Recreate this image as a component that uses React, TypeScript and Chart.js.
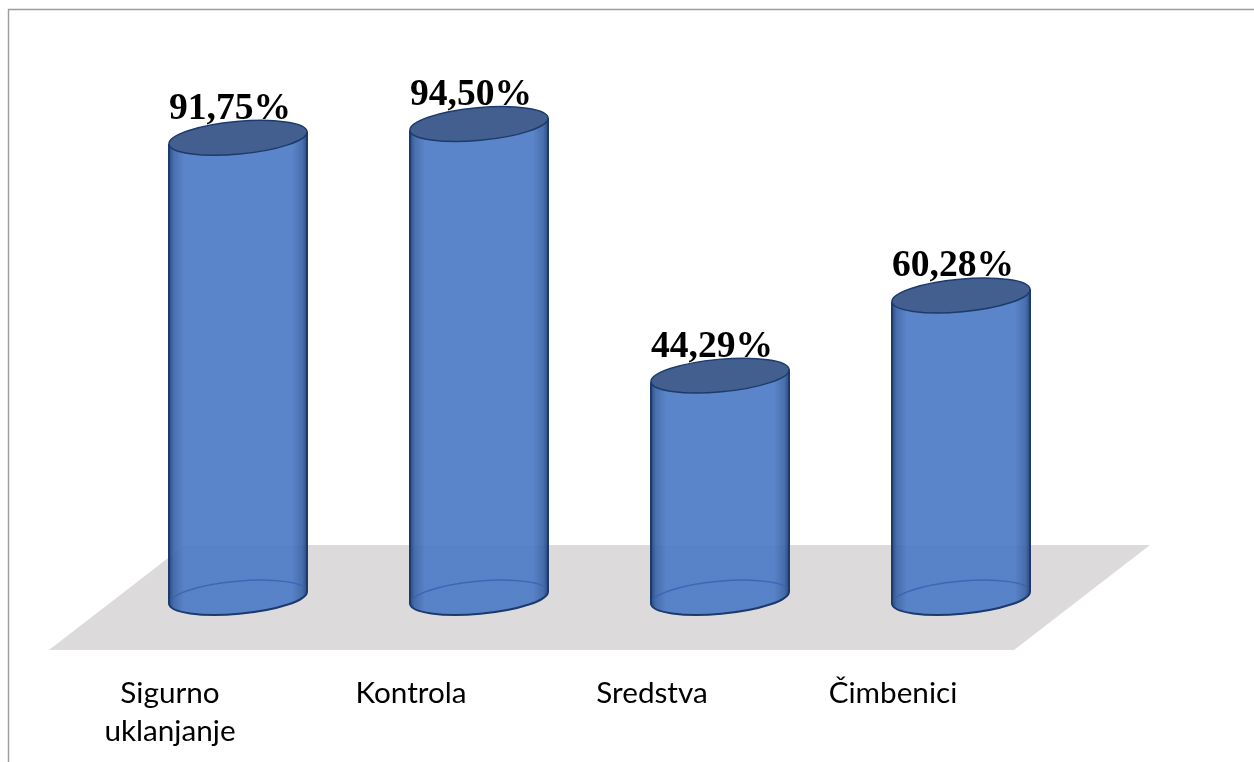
import React, { useEffect, useRef } from "react";
import { Chart, registerables } from "chart.js";

Chart.register(...registerables);

const categories: (string | string[])[] = [["Sigurno", "uklanjanje"], "Kontrola", "Sredstva", "Čimbenici"];
const values = [91.75, 94.5, 44.29, 60.28];
const valueLabels = ["91,75%", "94,50%", "44,29%", "60,28%"];

const TILT = (-5.2 * Math.PI) / 180;
const MINOR = 16.3;

const framePlugin = {
  id: "frame",
  beforeDraw(chart: any) {
    const { ctx } = chart;
    ctx.save();
    ctx.strokeStyle = "#9c9c9c";
    ctx.lineWidth = 1.4;
    ctx.beginPath();
    ctx.moveTo(8.5, 762);
    ctx.lineTo(8.5, 9.5);
    ctx.lineTo(1254, 9.5);
    ctx.stroke();
    ctx.restore();
  },
};

const floorPlugin = {
  id: "floor",
  beforeDatasetsDraw(chart: any) {
    const { ctx, chartArea: a } = chart;
    const top = a.bottom - 52.5;
    const bottom = a.bottom + 52.5;
    ctx.save();
    ctx.fillStyle = "#dcdadb";
    ctx.beginPath();
    ctx.moveTo(a.left - 68.5, bottom);
    ctx.lineTo(a.left + 67.5, top);
    ctx.lineTo(a.right + 68.5, top);
    ctx.lineTo(a.right - 67.5, bottom);
    ctx.closePath();
    ctx.fill();
    ctx.restore();
  },
};

const cylinderPlugin = {
  id: "cylinders",
  afterDatasetsDraw(chart: any) {
    const { ctx } = chart;
    const meta = chart.getDatasetMeta(0);
    meta.data.forEach((bar: any, i: number) => {
      const cx = bar.x;
      const w = bar.width;
      const a = w / 2 + 0.3;
      const l = cx - w / 2;
      const r = cx + w / 2;
      const dy = (w / 2) * Math.tan(-TILT);
      const yTop = bar.y;
      const yBase = bar.base;

      ctx.save();
      // body
      const grad = ctx.createLinearGradient(l, 0, r, 0);
      const edgeStop = 15 / w;
      grad.addColorStop(0, "rgba(34,66,122,0.95)");
      grad.addColorStop(edgeStop * 0.3, "rgba(58,98,166,0.92)");
      grad.addColorStop(edgeStop, "rgba(78,124,198,0.93)");
      grad.addColorStop(1 - edgeStop, "rgba(78,124,198,0.93)");
      grad.addColorStop(1 - edgeStop * 0.3, "rgba(58,98,166,0.92)");
      grad.addColorStop(1, "rgba(34,66,122,0.95)");
      ctx.fillStyle = grad;
      ctx.beginPath();
      ctx.moveTo(l, yTop + dy);
      ctx.lineTo(l, yBase + dy);
      ctx.ellipse(cx, yBase, a, MINOR, TILT, Math.PI, 0, true);
      ctx.lineTo(r, yTop - dy);
      ctx.ellipse(cx, yTop, a, MINOR, TILT, 0, Math.PI, false);
      ctx.closePath();
      ctx.fill();

      // back rim of the base
      ctx.strokeStyle = "rgba(52,98,178,0.8)";
      ctx.lineWidth = 1.4;
      ctx.beginPath();
      ctx.ellipse(cx, yBase, a, MINOR, TILT, Math.PI, 0, false);
      ctx.stroke();

      // outline of the body
      ctx.strokeStyle = "#1c3a6c";
      ctx.lineWidth = 2;
      ctx.beginPath();
      ctx.moveTo(l, yTop + dy);
      ctx.lineTo(l, yBase + dy);
      ctx.ellipse(cx, yBase, a, MINOR, TILT, Math.PI, 0, true);
      ctx.lineTo(r, yTop - dy);
      ctx.stroke();

      // top cap
      ctx.fillStyle = "#425f8f";
      ctx.strokeStyle = "#1c3a6c";
      ctx.lineWidth = 1.5;
      ctx.beginPath();
      ctx.ellipse(cx, yTop, a, MINOR, TILT, 0, Math.PI * 2);
      ctx.fill();
      ctx.stroke();

      // value label
      ctx.fillStyle = "#000000";
      ctx.font = 'bold 37.6px "Liberation Serif"';
      ctx.textAlign = "center";
      ctx.textBaseline = "alphabetic";
      ctx.fillText(valueLabels[i], cx - 8, yTop - 19);
      ctx.restore();
    });
  },
};

export default function App() {
  const ref = useRef<HTMLCanvasElement | null>(null);

  useEffect(() => {
    if (!ref.current) return;
    const chart = new Chart(ref.current, {
      type: "bar",
      data: {
        labels: categories as any,
        datasets: [
          {
            data: values,
            backgroundColor: "rgba(0,0,0,0)",
            borderWidth: 0,
            barPercentage: 138 / 241,
            categoryPercentage: 1,
          },
        ],
      },
      options: {
        responsive: false,
        animation: false,
        layout: {
          autoPadding: false,
          padding: { left: 117.5, right: 172.5, top: 96.5, bottom: 0 },
        },
        plugins: { legend: { display: false }, tooltip: { enabled: false }, title: { display: false } },
        scales: {
          x: {
            border: { display: false },
            grid: { display: false, drawTicks: false },
            afterFit(scale: any) {
              scale.height = 164.5;
            },
            ticks: {
              color: "#000000",
              font: { family: "Lato", size: 29.7, lineHeight: 1.28 },
              padding: 77,
              labelOffset: -68,
              maxRotation: 0,
              minRotation: 0,
              autoSkip: false,
            },
          },
          y: { display: false, min: 0, max: 100 },
        },
      },
      plugins: [framePlugin, floorPlugin, cylinderPlugin],
    });
    return () => chart.destroy();
  }, []);

  return (
    <canvas
      ref={ref}
      width={1254}
      height={762}
      style={{ position: "absolute", left: 0, top: 0, display: "block", background: "#ffffff" }}
    />
  );
}
